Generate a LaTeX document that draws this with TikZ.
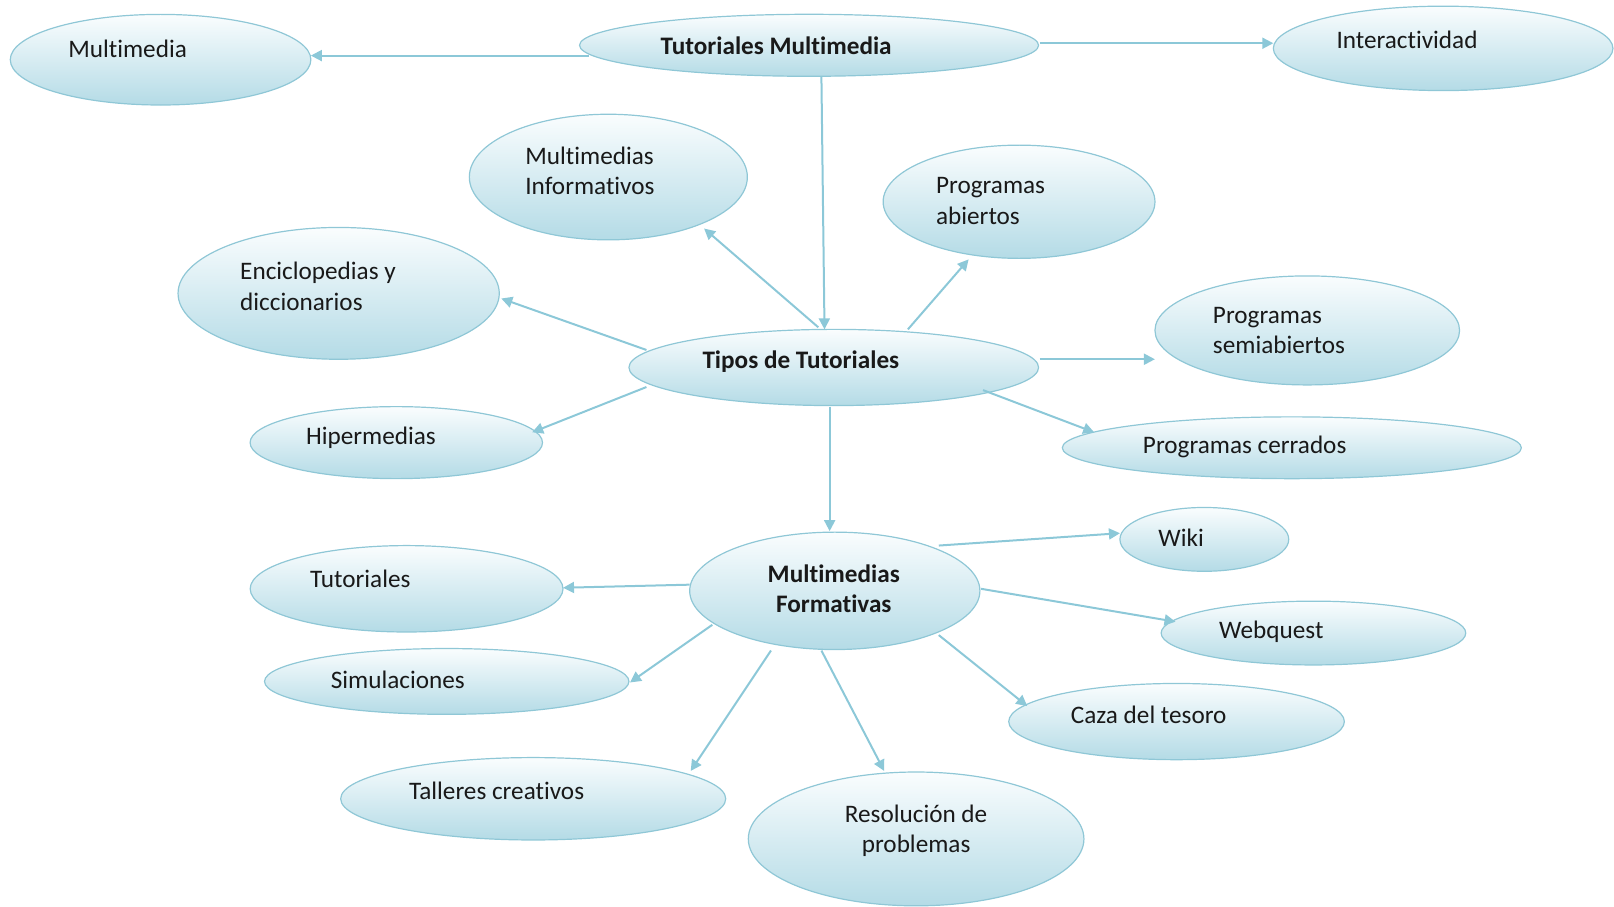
\documentclass[tikz,border=0pt]{standalone}
\usepackage{fontspec}
\setmainfont[Ligatures={NoCommon}]{Carlito}
\usetikzlibrary{shapes.geometric,arrows.meta,calc}
\definecolor{elltop}{RGB}{250,253,254}
\definecolor{ellbot}{RGB}{180,219,230}
\definecolor{ellline}{RGB}{143,199,214}
\definecolor{arr}{RGB}{140,200,216}
\definecolor{txtc}{RGB}{25,25,25}
\tikzset{
  bub/.style={ellipse, draw=ellline, line width=0.6pt, top color=elltop, bottom color=ellbot, inner sep=0pt},
  lbl/.style={anchor=west, inner sep=0pt, align=left, text=txtc, font=\fontsize{12.6}{15.4}\selectfont},
  blbl/.style={inner sep=0pt, align=center, text=txtc, font=\fontsize{12.6}{15.4}\selectfont\bfseries},
  clbl/.style={inner sep=0pt, align=center, text=txtc, font=\fontsize{12.6}{15.4}\selectfont},
  con/.style={draw=arr, line width=1pt, -{Triangle[length=5.5pt,width=5.5pt]}}
}
\begin{document}
\begin{tikzpicture}[x={(0.51465pt,0)}, y={(0,-0.51465pt)}]
\useasboundingbox (0,0) rectangle (1568,881);
% ellipses
\node[bub, minimum width=229.5pt, minimum height=31pt] (tm) at (786,44) {};
\node[bub, minimum width=169.8pt, minimum height=42.2pt] (inter) at (1402,47) {};
\node[bub, minimum width=150.3pt, minimum height=45.3pt] (mm) at (156,58) {};
\node[bub, minimum width=139pt, minimum height=62.8pt] (minf) at (591,172) {};
\node[bub, minimum width=135.9pt, minimum height=56.6pt] (pab) at (990,196) {};
\node[bub, minimum width=160.6pt, minimum height=65.9pt] (enc) at (329,285) {};
\node[bub, minimum width=204.8pt, minimum height=38.1pt] (tipos) at (810,357) {};
\node[bub, minimum width=152.3pt, minimum height=54.5pt] (psemi) at (1270,321) {};
\node[bub, minimum width=146.2pt, minimum height=36pt] (hip) at (385,430) {};
\node[bub, minimum width=229.5pt, minimum height=30.9pt] (pcer) at (1255,435) {};
\node[bub, minimum width=84.4pt, minimum height=31.9pt] (wiki) at (1170,524) {};
\node[bub, minimum width=145.1pt, minimum height=58.7pt] (mf) at (811,574) {};
\node[bub, minimum width=156.4pt, minimum height=43.2pt] (tut) at (395,572) {};
\node[bub, minimum width=152.3pt, minimum height=31.9pt] (web) at (1276,615) {};
\node[bub, minimum width=182.2pt, minimum height=32.9pt] (sim) at (434,662) {};
\node[bub, minimum width=167.8pt, minimum height=38.1pt] (caza) at (1143,701) {};
\node[bub, minimum width=192.5pt, minimum height=41.2pt] (tal) at (518,776) {};
\node[bub, minimum width=167.8pt, minimum height=66.9pt] (res) at (890,815) {};
% texts
\node[blbl] (ttm) at (754,44) {Tutoriales Multimedia};
\node[lbl] (tinter) at (1298,39) {Interactividad};
\node[lbl] (tmm) at (66,47) {Multimedia};
\node[lbl] (tminf) at (510,166) {Multimedias\\Informativos};
\node[lbl] (tpab) at (909,195) {Programas\\abiertos};
\node[lbl] (tenc) at (233,278) {Enciclopedias y\\diccionarios};
\node[blbl] (ttipos) at (778,351) {Tipos de Tutoriales};
\node[lbl] (tpsemi) at (1178,321) {Programas\\semiabiertos};
\node[lbl] (thip) at (297,425) {Hipermedias};
\node[lbl] (tpcer) at (1110,434) {Programas cerrados};
\node[lbl] (twiki) at (1125,522) {Wiki};
\node[blbl] (tmf) at (810,572) {Multimedias\\Formativas};
\node[lbl] (ttut) at (301,562) {Tutoriales};
\node[lbl] (tweb) at (1184,614) {Webquest};
\node[lbl] (tsim) at (321,660) {Simulaciones};
\node[lbl] (tcaza) at (1040,694) {Caza del tesoro};
\node[lbl] (ttal) at (397,768) {Talleres creativos};
\node[clbl] (tres) at (890,807) {Resolución de\\problemas};
% connectors
\draw[con] ($(tm)+(-214,10)$) -- ($(mm)+(146,-4)$);
\draw[con] ($(tm)+(224,-2)$) -- ($(inter)+(-165,-5)$);
\draw[con] ($(tm)+(12,31)$) -- ($(tipos)+(-9,-37)$);
\draw[con] ($(tipos)+(-15,-39)$) -- ($(minf)+(93,50)$);
\draw[con] ($(tipos)+(72,-37)$) -- ($(pab)+(-49,56)$);
\draw[con] ($(tipos)+(-182,-17)$) -- ($(enc)+(158,5)$);
\draw[con] ($(tipos)+(200,-8)$) -- ($(psemi)+(-148,28)$);
\draw[con] ($(tipos)+(-182,19)$) -- ($(hip)+(132,-10)$);
\draw[con] ($(tipos)+(145,22)$) -- ($(pcer)+(-192,-15)$);
\draw[con] ($(tipos)+(-4,38)$) -- ($(mf)+(-5,-58)$);
\draw[con] ($(mf)+(101,-44)$) -- ($(wiki)+(-82,-6)$);
\draw[con] ($(mf)+(-141,-6)$) -- ($(tut)+(152,-1)$);
\draw[con] ($(mf)+(142,-2)$) -- ($(web)+(-134,-11)$);
\draw[con] ($(mf)+(-119,33)$) -- ($(sim)+(178,1)$);
\draw[con] ($(mf)+(101,43)$) -- ($(caza)+(-145,-15)$);
\draw[con] ($(mf)+(-62,58)$) -- ($(tal)+(153,-27)$);
\draw[con] ($(mf)+(-13,58)$) -- ($(res)+(-31,-66)$);
\end{tikzpicture}
\end{document}
